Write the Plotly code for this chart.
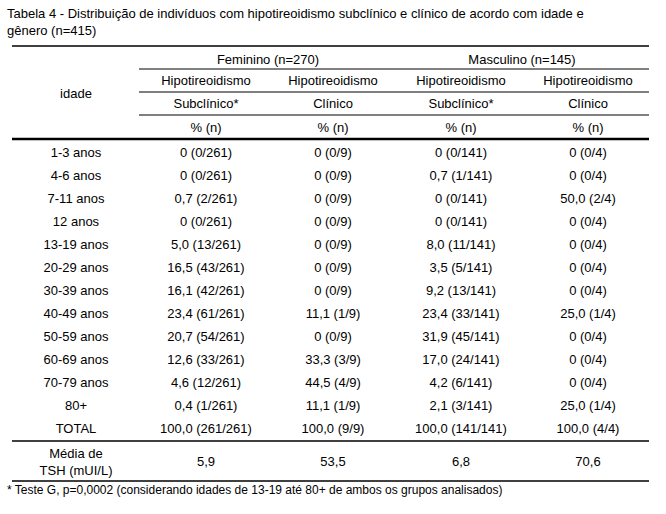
import plotly.graph_objects as go

# %% data read from the table

idade = ["1-3 anos", "4-6 anos", "7-11 anos", "12 anos", "13-19 anos", "20-29 anos",
         "30-39 anos", "40-49 anos", "50-59 anos", "60-69 anos", "70-79 anos", "80+", "TOTAL"]

fem_subclinico = ["0 (0/261)", "0 (0/261)", "0,7 (2/261)", "0 (0/261)", "5,0 (13/261)",
                  "16,5 (43/261)", "16,1 (42/261)", "23,4 (61/261)", "20,7 (54/261)",
                  "12,6 (33/261)", "4,6 (12/261)", "0,4 (1/261)", "100,0 (261/261)"]
fem_clinico = ["0 (0/9)", "0 (0/9)", "0 (0/9)", "0 (0/9)", "0 (0/9)", "0 (0/9)", "0 (0/9)",
               "11,1 (1/9)", "0 (0/9)", "33,3 (3/9)", "44,5 (4/9)", "11,1 (1/9)", "100,0 (9/9)"]
masc_subclinico = ["0 (0/141)", "0,7 (1/141)", "0 (0/141)", "0 (0/141)", "8,0 (11/141)",
                   "3,5 (5/141)", "9,2 (13/141)", "23,4 (33/141)", "31,9 (45/141)",
                   "17,0 (24/141)", "4,2 (6/141)", "2,1 (3/141)", "100,0 (141/141)"]
masc_clinico = ["0 (0/4)", "0 (0/4)", "50,0 (2/4)", "0 (0/4)", "0 (0/4)", "0 (0/4)", "0 (0/4)",
                "25,0 (1/4)", "0 (0/4)", "0 (0/4)", "0 (0/4)", "25,0 (1/4)", "100,0 (4/4)"]

tsh_label = "Média de<br>TSH (mUI/L)"
tsh_media = ["5,9", "53,5", "6,8", "70,6"]

grupos = ["Feminino (n=270)", "Masculino (n=145)"]
sub_header_1 = ["Hipotireoidismo", "Hipotireoidismo", "Hipotireoidismo", "Hipotireoidismo"]
sub_header_2 = ["Subclínico*", "Clínico", "Subclínico*", "Clínico"]
sub_header_3 = ["% (n)", "% (n)", "% (n)", "% (n)"]

titulo = ("Tabela 4 - Distribuição de indivíduos com hipotireoidismo subclínico e clínico de acordo com idade e"
          "<br>gênero (n=415)")
nota = "* Teste G, p=0,0002 (considerando idades de 13-19 até 80+ de ambos os grupos analisados)"

# %% layout constants (pixel-like axis units)

W, H = 666, 514
col_x = [76, 206, 333, 461, 588]
grp_x = [268, 522]
row0, row_step = 152, 23
left, mid, right = 12, 139, 649
FONT = "Arial, Liberation Sans, sans-serif"
fs = 13
text_dy = 2  # scatter text sits a touch high, nudge it down

fig = go.Figure()

def add_text(xs, ys, texts):
    fig.add_trace(go.Scatter(x=xs, y=[y + text_dy for y in ys], text=texts, mode="text",
                             textposition="middle center",
                             textfont=dict(family=FONT, size=fs, color="black"),
                             hoverinfo="skip", showlegend=False))

# header
add_text(grp_x, [59, 59], grupos)
add_text(col_x[1:], [80] * 4, sub_header_1)
add_text(col_x[1:], [103] * 4, sub_header_2)
add_text(col_x[1:], [127] * 4, sub_header_3)
add_text([col_x[0]], [93], ["idade"])

# body
rows_y = [row0 + i * row_step for i in range(len(idade))]
for x, col in zip(col_x, [idade, fem_subclinico, fem_clinico, masc_subclinico, masc_clinico]):
    add_text([x] * len(col), rows_y, col)

# tsh row
add_text(col_x, [461] * 5, [tsh_label] + tsh_media)

# horizontal rules
rules = [
    (left, right, 46, 1.5),
    (mid, right, 69, 1),
    (mid, right, 92, 1),
    (mid, right, 115, 1),
    (left, right, 139, 2.5),
    (left, right, 441, 1.5),
    (left, right, 481, 1.5),
]
for x0, x1, y, w in rules:
    fig.add_shape(type="line", xref="x", yref="y", x0=x0, x1=x1, y0=y, y1=y,
                  line=dict(color="black", width=w))

# title and footnote
fig.add_annotation(x=5, y=22, xref="x", yref="y", text=titulo, showarrow=False,
                   xanchor="left", yanchor="middle", align="left",
                   font=dict(family=FONT, size=fs, color="black"))
fig.add_annotation(x=5, y=490, xref="x", yref="y", text=nota, showarrow=False,
                   xanchor="left", yanchor="middle", align="left",
                   font=dict(family=FONT, size=12, color="black"))

fig.update_xaxes(range=[0, W], visible=False, fixedrange=True)
fig.update_yaxes(range=[H, 0], visible=False, fixedrange=True)
fig.update_layout(width=W, height=H, autosize=False,
                  margin=dict(l=0, r=0, t=0, b=0),
                  paper_bgcolor="white", plot_bgcolor="white")

# page has a default body margin; drop it so the table sits at the window origin
fig.write_html("out.html", config={"displayModeBar": False, "staticPlot": True},
               post_script="document.body.style.margin='0';")
